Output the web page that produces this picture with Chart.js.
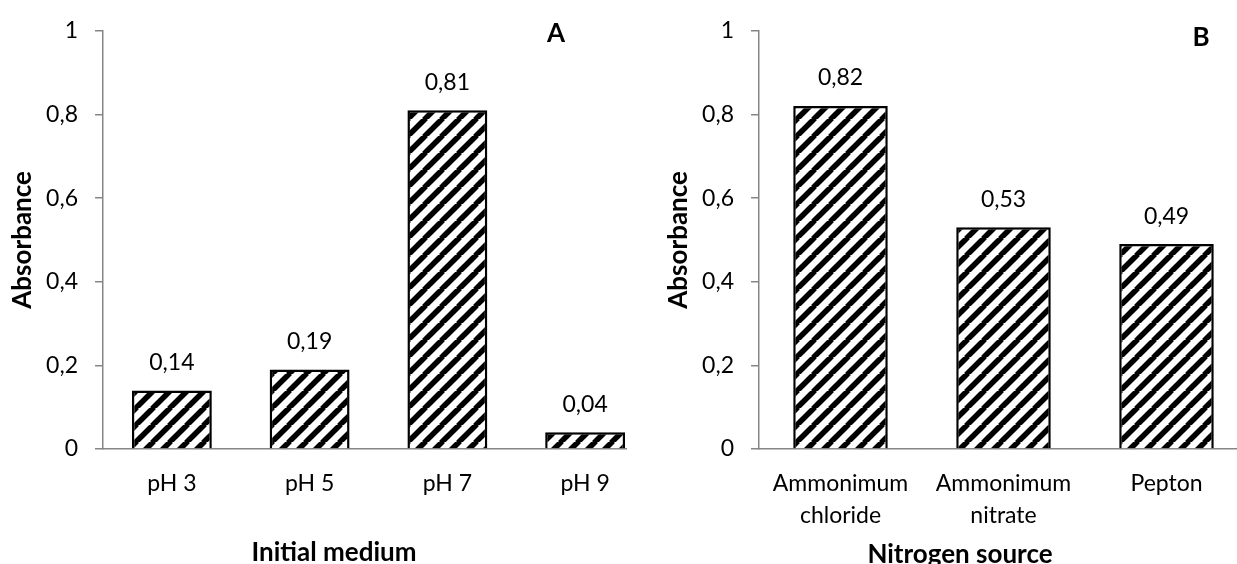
<!DOCTYPE html>
<html>
<head>
<meta charset="utf-8">
<script src="https://cdn.jsdelivr.net/npm/chart.js@4.4.1/dist/chart.umd.min.js"></script>
<style>
  html, body { margin: 0; padding: 0; background: #fff; }
  #wrap { position: relative; width: 1237px; height: 564px; overflow: hidden; }
  .panel { position: absolute; top: 0; height: 564px; overflow: hidden; background: #fff; }
  #panelA { left: 0; width: 627px; }
  #panelB { left: 627px; width: 610px; }
</style>
</head>
<body>
<div id="wrap">
  <div class="panel" id="panelA"><canvas id="chartA" width="660" height="564" style="width:660px;height:564px"></canvas></div>
  <div class="panel" id="panelB"><canvas id="chartB" width="627" height="564" style="width:627px;height:564px"></canvas></div>
</div>
<script>
// panel A
const mediumLabels = ['pH 3', 'pH 5', 'pH 7', 'pH 9'];
const mediumValues = [0.14, 0.19, 0.81, 0.04];
// panel B
const nitrogenLabels = [['Ammonimum', 'chloride'], ['Ammonimum', 'nitrate'], 'Pepton'];
const nitrogenValues = [0.82, 0.53, 0.49];

const fmt = v => String(Math.round(v * 100) / 100).replace('.', ',');

// wide upward diagonal hatch
function hatch() {
  const size = 17;
  const c = document.createElement('canvas');
  c.width = size; c.height = size;
  const g = c.getContext('2d');
  g.fillStyle = '#fff';
  g.fillRect(0, 0, size, size);
  g.strokeStyle = '#000';
  g.lineWidth = 5.5;
  for (let k = -1; k <= 1; k++) {
    g.beginPath();
    g.moveTo(k * size - 1, size + 1);
    g.lineTo(k * size + size + 1, -1);
    g.stroke();
  }
  return g.createPattern(c, 'repeat');
}

// value labels, panel letter and x axis title
const barLabels = {
  id: 'barLabels',
  afterDatasetsDraw(chart, args, opts) {
    const ctx = chart.ctx;
    const values = chart.data.datasets[0].data;
    ctx.save();
    ctx.fillStyle = '#000';
    ctx.textAlign = 'center';
    ctx.textBaseline = 'middle';
    ctx.font = '23px Lato';
    chart.getDatasetMeta(0).data.forEach((bar, i) => {
      ctx.fillText(fmt(values[i]), bar.x, bar.y - 28);
    });
    ctx.font = 'bold 26px Lato';
    ctx.fillText(opts.letter, opts.letterX, opts.letterY);
    ctx.textBaseline = 'alphabetic';
    ctx.fillText(opts.xTitle, opts.xTitleX, opts.xTitleY);
    ctx.restore();
  }
};

function makeChart(id, labels, values, yWidth, titlePad, extra) {
  return new Chart(document.getElementById(id), {
    type: 'bar',
    data: {
      labels,
      datasets: [{
        data: values,
        backgroundColor: hatch(),
        borderColor: '#000',
        borderWidth: 2.5,
        barPercentage: 0.58,
        categoryPercentage: 1
      }]
    },
    options: {
      responsive: false,
      animation: false,
      layout: { padding: { top: 27, left: 0, right: 6, bottom: 0 } },
      plugins: {
        legend: { display: false },
        tooltip: { enabled: false },
        barLabels: extra
      },
      scales: {
        x: {
          ticks: { color: '#000', font: { family: 'Lato', size: 23, lineHeight: 1.4 }, padding: 18, maxRotation: 0, autoSkip: false },
          grid: { display: false, drawTicks: false },
          border: { display: true, color: '#868686', width: 1.5 },
          afterFit: s => { s.height = 564 - 449; }
        },
        y: {
          min: 0,
          max: 1,
          ticks: { stepSize: 0.2, color: '#000', font: { family: 'Lato', size: 23 }, padding: 17, callback: v => fmt(v) },
          grid: { drawOnChartArea: false, color: '#868686', lineWidth: 1.5, tickLength: 8 },
          border: { color: '#868686', width: 1.5 },
          title: { display: true, text: 'Absorbance', color: '#000', font: { family: 'Lato', size: 26, weight: 'bold' }, padding: { top: titlePad, bottom: 0 } },
          afterFit: s => { s.width = yWidth; }
        }
      }
    },
    plugins: [barLabels]
  });
}

function draw() {
  Chart.defaults.font.family = 'Lato';
  makeChart('chartA', mediumLabels, mediumValues, 103, 7,
    { letter: 'A', letterX: 556, letterY: 34, xTitle: 'Initial medium', xTitleX: 334, xTitleY: 561 });
  makeChart('chartB', nitrogenLabels, nitrogenValues, 132, 36,
    { letter: 'B', letterX: 574, letterY: 38, xTitle: 'Nitrogen source', xTitleX: 333, xTitleY: 563 });
}

Promise.all([document.fonts.load('23px Lato'), document.fonts.load('bold 26px Lato')])
  .then(draw, draw);
</script>
</body>
</html>
